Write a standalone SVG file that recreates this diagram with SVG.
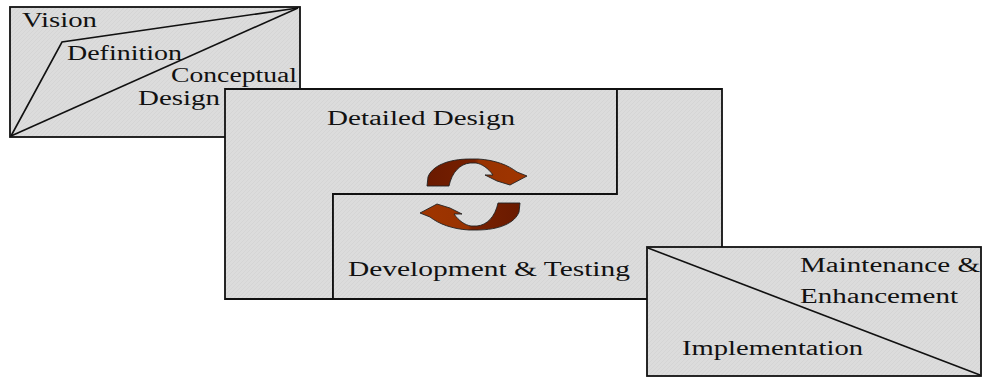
<svg xmlns="http://www.w3.org/2000/svg" width="982" height="378" viewBox="0 0 982 378">
  <style>
    .panel { fill: url(#hatch); stroke: #111; stroke-width: 1.8; }
    .rule { fill: none; stroke: #111; stroke-width: 1.6; }
    .lbl { font-family: "Liberation Serif", "Times New Roman", serif; font-size: 20px; fill: #111; }
    .cycle { fill: url(#rust); stroke: #222; stroke-width: 0.9; stroke-linejoin: round; }
  </style>
  <defs>
    <pattern id="hatch" width="4" height="4" patternUnits="userSpaceOnUse">
      <rect width="4" height="4" fill="#dcdcdc"/>
      <path d="M0,4 L4,0" stroke="#d2d2d2" stroke-width="0.7"/>
    </pattern>
    <linearGradient id="rust" x1="0" y1="0" x2="1" y2="0">
      <stop offset="0" stop-color="#6a1a00"/>
      <stop offset="0.48" stop-color="#782000"/>
      <stop offset="0.52" stop-color="#983200"/>
      <stop offset="1" stop-color="#a03500"/>
    </linearGradient>
  </defs>

  <!-- Early phases: vision, definition, conceptual design -->
  <g id="phase-vision">
    <rect class="panel" x="10" y="7" width="290" height="130"/>
    <polyline class="rule" points="11,136 62,42 298,8"/>
    <line class="rule" x1="11" y1="136" x2="298" y2="8"/>
    <text class="lbl" x="22" y="27" textLength="75" lengthAdjust="spacingAndGlyphs">Vision</text>
    <text class="lbl" x="67" y="60" textLength="115" lengthAdjust="spacingAndGlyphs">Definition</text>
    <text class="lbl" x="171" y="82" textLength="126" lengthAdjust="spacingAndGlyphs">Conceptual</text>
    <text class="lbl" x="138" y="105" textLength="82" lengthAdjust="spacingAndGlyphs">Design</text>
  </g>

  <!-- Iterative core: detailed design / development & testing -->
  <g id="phase-detailed-design">
    <polygon class="panel" points="225,89 617,89 617,194 333,194 333,299 225,299"/>
    <text class="lbl" x="327" y="125" textLength="188" lengthAdjust="spacingAndGlyphs">Detailed Design</text>
  </g>
  <g id="phase-development">
    <polygon class="panel" points="333,194 617,194 617,89 722,89 722,299 333,299"/>
    <text class="lbl" x="348" y="276" textLength="282" lengthAdjust="spacingAndGlyphs">Development &amp; Testing</text>
  </g>

  <!-- Final phases: implementation, maintenance -->
  <g id="phase-maintenance">
    <rect class="panel" x="647" y="247" width="334" height="129"/>
    <line class="rule" x1="648" y1="248" x2="980" y2="375"/>
    <text class="lbl" x="800" y="272" textLength="180" lengthAdjust="spacingAndGlyphs">Maintenance &amp;</text>
    <text class="lbl" x="800" y="303" textLength="158" lengthAdjust="spacingAndGlyphs">Enhancement</text>
    <text class="lbl" x="682" y="355" textLength="181" lengthAdjust="spacingAndGlyphs">Implementation</text>
  </g>

  <!-- Cycle arrows between design and development -->
  <g id="connectors">
    <path id="cycle-arrow" class="cycle" d="M427,186 L428,177 C432,166 448,159 470,159 L478,159 C495,160 508,165 517,172 L527,176 L510,185 L497,181 L485,175 L493,175 C488,168 482,164 476,163 L470,163 C460,164 452,172 449,186 Z"/>
    <use href="#cycle-arrow" transform="rotate(180 473.5 194.5)"/>
  </g>
</svg>
